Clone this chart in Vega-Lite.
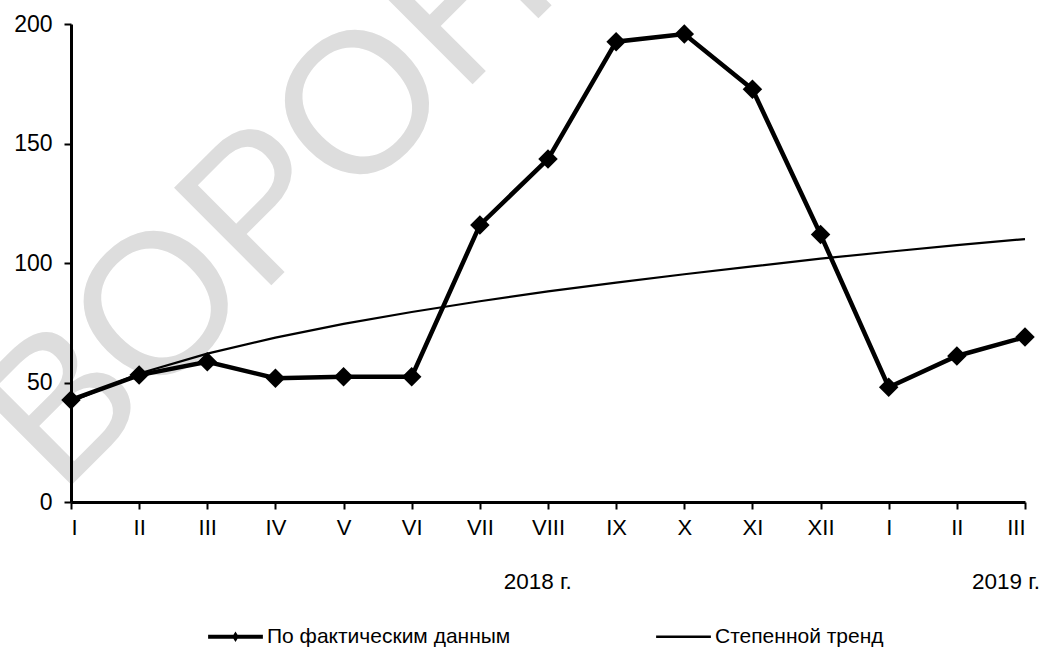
{
  "$schema": "https://vega.github.io/schema/vega-lite/v6.json",
  "width": 954,
  "height": 478,
  "autosize": "none",
  "padding": {"left": 71, "top": 24, "right": 21, "bottom": 145},
  "background": "white",
  "config": {
    "view": {"stroke": null},
    "font": "Liberation Sans",
    "axis": {"labelFont": "Liberation Sans", "labelColor": "black", "domainColor": "black", "tickColor": "black"}
  },
  "datasets": {
    "main": [
      {"i": 1, "series": "По фактическим данным", "v": 42.7},
      {"i": 2, "series": "По фактическим данным", "v": 53.1},
      {"i": 3, "series": "По фактическим данным", "v": 58.7},
      {"i": 4, "series": "По фактическим данным", "v": 51.8},
      {"i": 5, "series": "По фактическим данным", "v": 52.4},
      {"i": 6, "series": "По фактическим данным", "v": 52.4},
      {"i": 7, "series": "По фактическим данным", "v": 115.9},
      {"i": 8, "series": "По фактическим данным", "v": 143.5},
      {"i": 9, "series": "По фактическим данным", "v": 192.6},
      {"i": 10, "series": "По фактическим данным", "v": 195.8},
      {"i": 11, "series": "По фактическим данным", "v": 172.7},
      {"i": 12, "series": "По фактическим данным", "v": 111.9},
      {"i": 13, "series": "По фактическим данным", "v": 48.0},
      {"i": 14, "series": "По фактическим данным", "v": 61.1},
      {"i": 15, "series": "По фактическим данным", "v": 69.0},
      {"i": 1, "series": "Степенной тренд", "v": 42.0},
      {"i": 2, "series": "Степенной тренд", "v": 53.8},
      {"i": 3, "series": "Степенной тренд", "v": 62.1},
      {"i": 4, "series": "Степенной тренд", "v": 68.8},
      {"i": 5, "series": "Степенной тренд", "v": 74.5},
      {"i": 6, "series": "Степенной тренд", "v": 79.5},
      {"i": 7, "series": "Степенной тренд", "v": 84.0},
      {"i": 8, "series": "Степенной тренд", "v": 88.1},
      {"i": 9, "series": "Степенной тренд", "v": 91.8},
      {"i": 10, "series": "Степенной тренд", "v": 95.3},
      {"i": 11, "series": "Степенной тренд", "v": 98.6},
      {"i": 12, "series": "Степенной тренд", "v": 101.8},
      {"i": 13, "series": "Степенной тренд", "v": 104.7},
      {"i": 14, "series": "Степенной тренд", "v": 107.5},
      {"i": 15, "series": "Степенной тренд", "v": 110.0}
    ],
    "years": [
      {"pos": 7.85, "year": "2018 г."},
      {"pos": 14.72, "year": "2019 г."}
    ]
  },
  "layer": [
    {
      "data": {"values": [{"wm": "ВОРОНЕЖСКИЙ"}]},
      "mark": {"type": "text", "angle": -45, "align": "left", "baseline": "alphabetic", "fontSize": 200, "font": "Liberation Sans", "color": "#dddddd"},
      "encoding": {
        "x": {"datum": 0.84, "type": "quantitative"},
        "y": {"datum": 2.3, "type": "quantitative"},
        "text": {"field": "wm"}
      }
    },
    {
      "data": {"name": "main"},
      "transform": [{"filter": "datum.series === 'По фактическим данным'"}],
      "mark": {"type": "line", "strokeWidth": 4.5, "point": {"shape": "diamond", "size": 380, "filled": true, "color": "black"}},
      "encoding": {
        "x": {"field": "i", "type": "quantitative",
          "scale": {"domain": [1, 15], "nice": false, "zero": false},
          "axis": {"values": [1,2,3,4,5,6,7,8,9,10,11,12,13,14,15], "title": null, "grid": false, "zindex": 1,
            "domainWidth": 3, "tickWidth": 2, "tickSize": 7, "labelFontSize": 22, "labelPadding": 8,
            "labelExpr": "['I','II','III','IV','V','VI','VII','VIII','IX','X','XI','XII','I','II','III'][datum.value - 1]"}},
        "y": {"field": "v", "type": "quantitative",
          "scale": {"domain": [0, 200], "nice": false},
          "axis": {"values": [0, 50, 100, 150, 200], "title": null, "grid": false, "zindex": 1,
            "domainWidth": 3, "tickWidth": 2, "tickSize": 7, "labelFontSize": 23, "labelPadding": 12}},
        "color": {"field": "series", "type": "nominal",
          "scale": {"domain": ["По фактическим данным", "Степенной тренд"], "range": ["black", "black"]},
          "legend": {"orient": "none", "legendX": 137, "legendY": 585, "direction": "horizontal", "title": null,
            "symbolSize": 3000, "labelFont": "Liberation Sans", "labelFontSize": 21, "labelColor": "black",
            "labelOffset": 4, "columnPadding": 145, "labelLimit": 400,
            "encode": {"symbols": {"update": {
              "shape": {"signal": "datum.value === 'По фактическим данным' ? 'M-1,-0.07L1,-0.07L1,0.07L-1,0.07Z M-0.12,0L0,-0.19L0.12,0L0,0.19Z' : 'M-1,-0.045L1,-0.045L1,0.045L-1,0.045Z'"},
              "fill": {"value": "black"}, "stroke": {"value": "transparent"}, "strokeWidth": {"value": 0}, "opacity": {"value": 1}}}}}}
      }
    },
    {
      "data": {"name": "main"},
      "transform": [{"filter": "datum.series === 'Степенной тренд'"}],
      "mark": {"type": "line", "strokeWidth": 2.2},
      "encoding": {
        "x": {"field": "i", "type": "quantitative"},
        "y": {"field": "v", "type": "quantitative"},
        "color": {"field": "series", "type": "nominal"}
      }
    },
    {
      "data": {"name": "years"},
      "mark": {"type": "text", "fontSize": 22.5, "font": "Liberation Sans", "color": "black", "align": "center", "baseline": "middle"},
      "encoding": {
        "x": {"field": "pos", "type": "quantitative"},
        "y": {"datum": -33.5, "type": "quantitative"},
        "text": {"field": "year"}
      }
    }
  ]
}
